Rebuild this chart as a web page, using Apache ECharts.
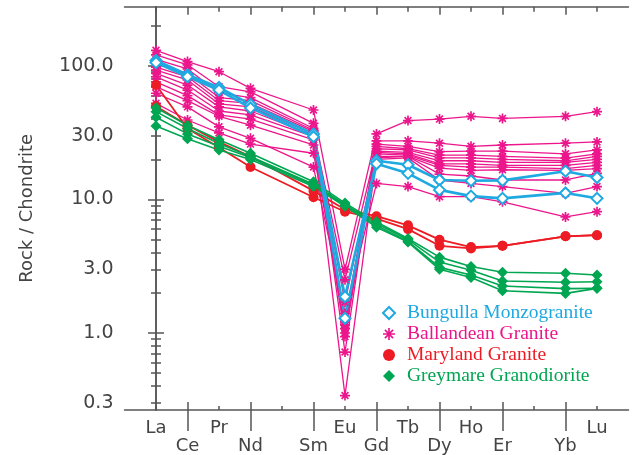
<!DOCTYPE html>
<html><head><meta charset="utf-8">
<script src="https://cdn.jsdelivr.net/npm/echarts@6/dist/echarts.min.js"></script>
<style>html,body{margin:0;padding:0;background:#fff}#c{width:632px;height:455px}</style>
</head><body><div id="c"></div>
<script>
// ---- categories (x positions 0..14; Pm and Tm have no data) ----
const elements = ['La','Ce','Pr','Nd','Pm','Sm','Eu','Gd','Tb','Dy','Ho','Er','Tm','Yb','Lu'];
const xTopRowLabels = [0, 2, 6, 8, 10, 14];
const xBottomRowLabels = [1, 3, 5, 7, 9, 11, 13];
const xAllTicks = [0,1,2,3,4,5,6,7,8,9,10,11,12,13,14];
const xLongTicks = [1, 3, 5, 7, 9, 11, 13];

// ---- y ticks / labels ----
const yLabels = [0.3, 1, 3, 10, 30, 100];
const yMinorTicks = [0.3,0.4,0.5,0.6,0.7,0.8,0.9,2,3,4,5,6,7,8,9,20,30,40,50,60,70,80,90,200];
const yMajorTicks = [1, 10, 100];

// ---- data: La Ce Pr Nd Pm Sm Eu Gd Tb Dy Ho Er Tm Yb Lu ----
const bungulla1 = [110, 86, 69, 51.5, null, 31, 1.87, 19.5, 18.2, 14, 13.8, 13.9, null, 16.3, 14.6];
const bungulla2 = [106, 83, 66, 48.5, null, 29.5, 1.29, 18.5, 15.7, 11.8, 10.6, 10.2, null, 11.2, 10.2];

const ballandean1  = [131, 108, 90.6, 68, null, 46.8, 3.0, 31, 39, 40, 42, 40.5, null, 42, 45.5];
const ballandean2  = [121, 102, 70, 64, null, 37.2, 0.72, 27.5, 27.5, 26.4, 25, 25.6, null, 26.4, 27];
const ballandean3  = [112, 95, 63, 58, null, 34, 1.2, 26, 25, 22.8, 23, 23, null, 22, 23.5];
const ballandean4  = [105, 88, 58, 55, null, 33, 1.08, 25, 24, 21.5, 21.5, 21, null, 20.4, 22];
const ballandean5  = [98, 83, 55, 52.5, null, 32.2, 2.5, 24, 23.5, 20.5, 20.5, 20, null, 19.5, 21];
const ballandean6  = [93, 78.6, 52, 49.4, null, 31, 0.94, 23, 22.5, 19.5, 19.5, 19, null, 19, 20];
const ballandean7  = [88, 72, 49.4, 46, null, 30.4, 1.0, 22.5, 22, 18.5, 18.5, 18, null, 18, 19];
const ballandean8  = [83, 66, 46, 43, null, 29.6, 1.7, 22, 21.5, 18, 17.5, 17.5, null, 17, 18];
const ballandean9  = [76, 60, 43, 40, null, 28, 0.34, 21, 21, 17.2, 16.5, 16.7, null, 16.5, 17];
const ballandean10 = [70, 55, 42, 36, null, 25.6, 1.15, 20.5, 21, 15.5, 15, 14, null, 14, 15.7];
const ballandean11 = [52.5, 39.4, 31.5, 26, null, 22.2, 1.3, 20, 20.5, 14, 13.2, 12.5, null, 11.1, 12.5];
const ballandean12 = [62.5, 49.4, 35, 28.7, null, 17.5, 1.4, 13.2, 12.5, 10.5, 10.5, 9.6, null, 7.4, 8.1];

const maryland1 = [72, 34, 24.5, 17.5, null, 10.4, 8.1, 7.2, 6.0, 4.5, 4.3, 4.5, null, 5.3, 5.4];
const maryland2 = [50, 36, 27, 21, null, 11.6, 8.4, 7.5, 6.4, 5.0, 4.4, 4.5, null, 5.3, 5.4];

const greymare1 = [48.7, 36, 28, 22.2, null, 13.6, 9.4, 6.8, 5.1, 3.7, 3.15, 2.85, null, 2.8, 2.72];
const greymare2 = [45.5, 34, 26.3, 21, null, 13, 9.2, 6.6, 5.0, 3.4, 2.95, 2.45, null, 2.4, 2.42];
const greymare3 = [41.3, 31, 25, 20.6, null, 12.8, 9.0, 6.4, 4.85, 3.1, 2.72, 2.25, null, 2.15, 2.16];
const greymare4 = [35.5, 28.5, 23.5, 19.9, null, 12.5, 8.9, 6.2, 4.8, 3.0, 2.6, 2.07, null, 1.98, 2.16];

const groups = [
  {name: 'Ballandean Granite', rows: [ballandean1, ballandean2, ballandean3, ballandean4, ballandean5, ballandean6, ballandean7, ballandean8, ballandean9, ballandean10, ballandean11, ballandean12]},
  {name: 'Maryland Granite', rows: [maryland1, maryland2]},
  {name: 'Greymare Granodiorite', rows: [greymare1, greymare2, greymare3, greymare4]},
  {name: 'Bungulla Monzogranite', rows: [bungulla1, bungulla2]}
];

const C_BLUE = '#1fa9e1', C_MAG = '#ec168c', C_RED = '#ed1c24', C_GREEN = '#00a651';
const ASTER = 'path://M5,0L5,10M0,5L10,5M1.6,1.6L8.4,8.4M8.4,1.6L1.6,8.4';

const styles = {
  'Bungulla Monzogranite': {symbol: 'diamond', symbolSize: 11, lineStyle: {color: C_BLUE, width: 2.6}, itemStyle: {color: '#fff', borderColor: C_BLUE, borderWidth: 2}},
  'Ballandean Granite': {symbol: ASTER, symbolSize: 10, lineStyle: {color: C_MAG, width: 1.3}, itemStyle: {color: C_MAG, borderColor: C_MAG, borderWidth: 1.7}},
  'Maryland Granite': {symbol: 'circle', symbolSize: 10, lineStyle: {color: C_RED, width: 1.8}, itemStyle: {color: C_RED, borderWidth: 0}},
  'Greymare Granodiorite': {symbol: 'diamond', symbolSize: 11, lineStyle: {color: C_GREEN, width: 1.6}, itemStyle: {color: C_GREEN, borderWidth: 0}}
};

const series = [];
groups.forEach(g => {
  g.rows.forEach(row => {
    const data = [];
    row.forEach((v, i) => { if (v != null) data.push([i, v]); });
    series.push(Object.assign({
      type: 'line', name: g.name, data: data, xAxisIndex: 0, yAxisIndex: 0,
      animation: false, emphasis: {disabled: true}
    }, styles[g.name]));
  });
});

const FONT = 'DejaVu Sans';
const AX = {color: '#555', width: 1.5};
const gridRect = {left: 124.5, top: 6.7, width: 504, height: 403.3, containLabel: false};
const YMIN = 0.265, YMAX = 278;
const fmtX = v => elements[Math.round(v)] || '';

const xBase = {type: 'value', min: -1, max: 15, splitLine: {show: false}};
const yBase = {type: 'log', min: YMIN, max: YMAX, splitLine: {show: false}};

const option = {
  backgroundColor: '#fff',
  animation: false,
  grid: [gridRect, gridRect, gridRect],
  xAxis: [
    Object.assign({}, xBase, {gridIndex: 0, position: 'bottom', axisLine: {show: true, lineStyle: AX},
      axisTick: {inside: true, length: 4, lineStyle: AX, customValues: xAllTicks},
      axisLabel: {customValues: xTopRowLabels, formatter: fmtX, margin: 9, fontFamily: FONT, fontSize: 18, color: '#444'}}),
    Object.assign({}, xBase, {gridIndex: 0, position: 'top', axisLine: {show: true, lineStyle: AX},
      axisTick: {inside: true, length: 5, lineStyle: AX, customValues: xAllTicks}, axisLabel: {show: false}}),
    Object.assign({}, xBase, {gridIndex: 1, position: 'bottom', axisLine: {show: false},
      axisTick: {inside: true, length: 8, lineStyle: AX, customValues: xLongTicks}, axisLabel: {show: false}}),
    Object.assign({}, xBase, {gridIndex: 1, position: 'top', axisLine: {show: false},
      axisTick: {inside: true, length: 8, lineStyle: AX, customValues: xLongTicks}, axisLabel: {show: false}}),
    Object.assign({}, xBase, {gridIndex: 2, position: 'bottom', axisLine: {show: false},
      axisTick: {inside: false, length: 24, lineStyle: AX, customValues: xLongTicks},
      axisLabel: {customValues: xBottomRowLabels, formatter: fmtX, margin: 30, fontFamily: FONT, fontSize: 18, color: '#444'}})
  ],
  yAxis: [
    Object.assign({}, yBase, {gridIndex: 0, position: 'left', axisLine: {show: true, lineStyle: AX},
      axisTick: {inside: true, length: 5, lineStyle: AX, customValues: yMinorTicks},
      axisLabel: {customValues: yLabels, formatter: v => Number(v).toFixed(1), margin: 11, fontFamily: FONT, fontSize: 19, color: '#444'},
      name: 'Rock / Chondrite', nameLocation: 'middle', nameGap: 88,
      nameTextStyle: {fontFamily: FONT, fontSize: 18, color: '#444'}}),
    Object.assign({}, yBase, {gridIndex: 0, position: 'right', axisLine: {show: true, lineStyle: AX},
      axisTick: {inside: true, length: 5, lineStyle: AX, customValues: yMinorTicks}, axisLabel: {show: false}}),
    Object.assign({}, yBase, {gridIndex: 1, position: 'left', axisLine: {show: false},
      axisTick: {inside: true, length: 8, lineStyle: AX, customValues: yMajorTicks}, axisLabel: {show: false}}),
    Object.assign({}, yBase, {gridIndex: 1, position: 'right', axisLine: {show: false},
      axisTick: {inside: true, length: 8, lineStyle: AX, customValues: yMajorTicks}, axisLabel: {show: false}}),
    Object.assign({}, yBase, {gridIndex: 2, show: false})
  ],
  legend: {
    orient: 'vertical', left: 382, top: 303, itemWidth: 12, itemHeight: 12, itemGap: 1,
    selectedMode: false, padding: 0,
    textStyle: {fontFamily: 'Liberation Serif', fontSize: 19.5, padding: [0, 0, 0, 7]},
    data: [
      {name: 'Bungulla Monzogranite', icon: 'diamond', itemStyle: {color: '#fff', borderColor: C_BLUE, borderWidth: 2}, textStyle: {color: C_BLUE}},
      {name: 'Ballandean Granite', icon: ASTER, itemStyle: {color: C_MAG, borderColor: C_MAG, borderWidth: 1.7}, textStyle: {color: C_MAG}},
      {name: 'Maryland Granite', icon: 'circle', itemStyle: {color: C_RED, borderWidth: 0}, textStyle: {color: C_RED}},
      {name: 'Greymare Granodiorite', icon: 'diamond', itemStyle: {color: C_GREEN, borderWidth: 0}, textStyle: {color: C_GREEN}}
    ]
  },
  series: series
};

const chart = echarts.init(document.getElementById('c'), null, {renderer: 'canvas'});
chart.setOption(option);
</script>
</body></html>
